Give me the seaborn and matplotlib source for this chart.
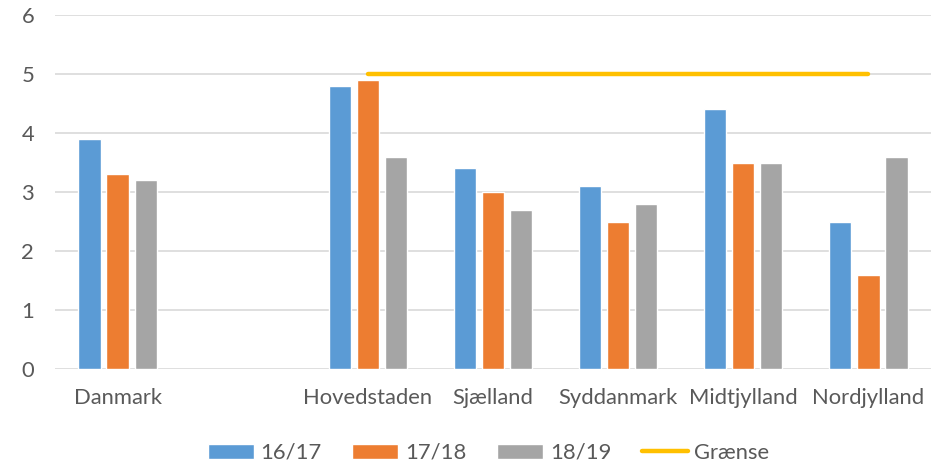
import matplotlib
matplotlib.use("Agg")
import matplotlib.pyplot as plt
import seaborn as sns
import pandas as pd
import numpy as np
from matplotlib.patches import Patch
from matplotlib.lines import Line2D

categories = ["Danmark", " ", "Hovedstaden", "Sjælland", "Syddanmark", "Midtjylland", "Nordjylland"]
series = ["16/17", "17/18", "18/19"]
v_1617 = [3.9, np.nan, 4.8, 3.4, 3.1, 4.4, 2.5]
v_1718 = [3.3, np.nan, 4.9, 3.0, 2.5, 3.5, 1.6]
v_1819 = [3.2, np.nan, 3.6, 2.7, 2.8, 3.5, 3.6]
grense_categories = ["Hovedstaden", "Sjælland", "Syddanmark", "Midtjylland", "Nordjylland"]
grense_values = [5, 5, 5, 5, 5]
colors = ["#5B9BD5", "#ED7D31", "#A5A5A5"]
line_color = "#FFC000"

rows = []
for s, vals in zip(series, [v_1617, v_1718, v_1819]):
    for c, v in zip(categories, vals):
        rows.append({"Region": c, "Periode": s, "Værdi": v})
df = pd.DataFrame(rows)

sns.set_theme(style="white")
plt.rcParams["font.family"] = ["Lato", "DejaVu Sans"]
text_color = "#595959"
fs = 15.8

fig = plt.figure(figsize=(9.31, 4.66), dpi=100)
ax = fig.add_axes([55/931, 97/466, 876/931, 354/466])

sns.barplot(data=df, x="Region", y="Værdi", hue="Periode", order=categories,
            hue_order=series, palette=colors, width=0.672, gap=0.21,
            errorbar=None, ax=ax, legend=False, saturation=1)

ax.plot(grense_categories, grense_values, color=line_color, lw=3.2,
        solid_capstyle="round", zorder=5)

ax.set_xlim(-0.5, len(categories) - 0.5)
ax.set_ylim(0, 6)
ax.set_yticks(range(0, 7))
ax.yaxis.grid(True, color="#D9D9D9", lw=1.2)
ax.set_axisbelow(True)
for sp in ax.spines.values():
    sp.set_visible(False)
ax.set_xlabel("")
ax.set_ylabel("")
ax.tick_params(axis="y", length=0, pad=15, labelsize=fs, labelcolor=text_color)
ax.tick_params(axis="x", length=0, pad=14, labelsize=fs, labelcolor=text_color)

handles = [Patch(facecolor=c) for c in colors] + [Line2D([0], [0], color=line_color, lw=3.2, solid_capstyle="round")]
labels = series + ["Grænse"]
leg = ax.legend(handles, labels, loc="center", bbox_to_anchor=(0.495, -0.237), ncol=4,
                frameon=False, fontsize=fs, handlelength=2.1, handleheight=0.65,
                handletextpad=0.3, columnspacing=1.4)
for t in leg.get_texts():
    t.set_color(text_color)

fig.savefig("out.png", dpi=100)
